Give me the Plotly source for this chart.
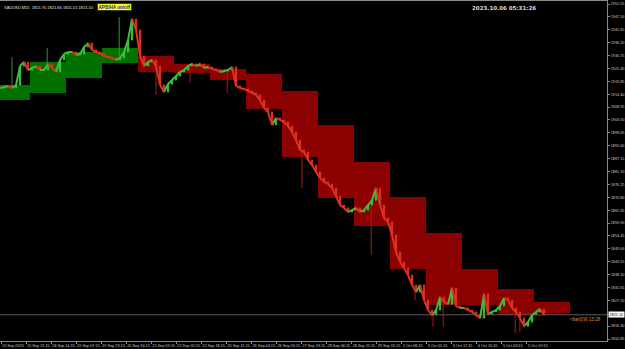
import numpy as np
import plotly.graph_objects as go

# ---------------- data ----------------
# Close prices of the (M15, aggregated) candle path
closes = [1917.0, 1917.4, 1917.9, 1917.0, 1918.3, 1926.3, 1928.0, 1924.6, 1925.5, 1926.3,
          1924.6, 1924.6, 1927.2, 1925.5, 1923.8, 1928.9, 1931.4, 1932.2, 1932.2, 1931.0,
          1931.4, 1934.4, 1936.0, 1933.1, 1932.2, 1931.8, 1930.6, 1930.1, 1929.7, 1928.9,
          1929.7, 1932.2, 1937.3, 1946.2, 1941.6, 1930.6, 1926.3, 1928.0, 1928.9, 1926.3,
          1918.3, 1915.3, 1918.7, 1920.4, 1922.1, 1923.8, 1924.6, 1926.3, 1927.2, 1926.3,
          1927.2, 1925.5, 1925.9, 1925.1, 1924.6, 1923.8, 1924.2, 1924.6, 1925.9, 1917.9,
          1917.0, 1916.6, 1915.8, 1914.9, 1914.1, 1911.9, 1908.6, 1906.9, 1901.4, 1904.3,
          1903.5, 1902.6, 1900.9, 1898.4, 1895.0, 1890.8, 1889.9, 1886.6, 1884.4, 1881.5,
          1879.0, 1877.3, 1876.4, 1874.7, 1871.3, 1867.5, 1866.3, 1864.6, 1865.4, 1866.3,
          1864.6, 1865.4, 1867.5, 1869.6, 1874.7, 1867.5, 1862.0, 1860.3, 1854.8, 1847.6,
          1843.4, 1840.9, 1837.9, 1833.7, 1830.7, 1833.7, 1827.3, 1823.1, 1821.0, 1823.1,
          1828.6, 1826.5, 1825.6, 1832.4, 1824.8, 1824.0, 1824.0, 1823.1, 1822.3, 1821.0,
          1819.7, 1829.9, 1821.4, 1822.3, 1823.1, 1824.8, 1828.2, 1827.3, 1824.0, 1822.3,
          1819.7, 1816.3, 1818.0, 1821.0, 1822.3, 1823.5, 1821.1]
first_open = 1917.2
BARS_PER_CANDLE = 92 / 9

# Long wicks (bar index, from price, to price)
wick_x = [28, 118, 302, 396, 483, 578, 769, 946, 1058, 1104, 1130, 1314, 1326]
wick_from = [1917.0, 1925.0, 1928.9, 1926.3, 1927.2, 1924.6, 1890.0, 1867.5, 1833.7, 1822.3, 1828.6, 1822.3, 1819.7]
wick_to = [1930.1, 1933.9, 1947.0, 1914.1, 1919.1, 1914.9, 1874.7, 1846.4, 1827.3, 1815.9, 1815.9, 1813.4, 1813.8]

# Daily Heiken-Ashi style boxes
day_names = ["15 Sep", "18 Sep", "19 Sep", "20 Sep", "21 Sep", "22 Sep", "25 Sep", "26 Sep",
             "27 Sep", "28 Sep", "29 Sep", "2 Oct", "3 Oct", "4 Oct", "5 Oct", "6 Oct"]
day_start = [-3, 74, 166, 258, 350, 442, 534, 626, 718, 810, 902, 994, 1086, 1178, 1270, 1362]
day_end = [74, 166, 258, 350, 442, 534, 626, 718, 810, 902, 994, 1086, 1178, 1270, 1362, 1454]
ha_open = [1911.9, 1914.9, 1921.3, 1927.6, 1930.6, 1927.2, 1925.1, 1922.9,
           1915.8, 1901.4, 1885.7, 1870.9, 1855.7, 1840.5, 1832.0, 1826.5]
ha_close = [1918.3, 1928.0, 1932.3, 1933.9, 1923.8, 1923.4, 1920.4, 1908.1,
            1887.8, 1870.5, 1858.7, 1840.5, 1825.2, 1825.2, 1821.0, 1821.9]

# Axis labels
x_tick_bars = [0, 64, 128, 192, 256, 320, 384, 448, 512, 576, 640, 704, 768, 832, 896,
               960, 1024, 1088, 1152, 1216, 1280, 1344]
x_tick_text = ["15 Sep 2023", "15 Sep 21:15", "18 Sep 14:15", "19 Sep 07:15", "19 Sep 23:15",
               "20 Sep 16:15", "21 Sep 09:15", "22 Sep 02:15", "22 Sep 18:15", "25 Sep 11:15",
               "26 Sep 04:15", "26 Sep 20:15", "27 Sep 13:15", "28 Sep 06:15", "28 Sep 22:15",
               "29 Sep 15:15", "2 Oct 08:15", "3 Oct 01:15", "3 Oct 17:15", "4 Oct 10:15",
               "5 Oct 03:15", "5 Oct 19:15"]
y_ticks = [1952.55, 1947.10, 1941.65, 1936.20, 1930.75, 1925.30, 1919.85, 1914.40, 1908.95,
           1903.50, 1898.05, 1892.60, 1887.15, 1881.70, 1876.25, 1870.80, 1865.35, 1859.90,
           1854.45, 1849.00, 1843.55, 1838.10, 1832.65, 1827.20, 1816.30, 1810.85]

bid = 1821.10
header = "XAUUSD,M15  1821.70 1821.84 1821.01 1821.10"
server_time = "2023.10.06 05:31:26"

# ---------------- figure ----------------
GREEN_BOX = "#007000"
RED_BOX = "#8b0000"
UP = "#3cc03c"
DN = "#e0321e"

n = len(closes)
cx = list(np.arange(n) * BARS_PER_CANDLE - 2.5)
opens = [first_open] + closes[:-1]
highs = [max(o, c) for o, c in zip(opens, closes)]
lows = [min(o, c) for o, c in zip(opens, closes)]

fig = go.Figure()

# daily boxes
centers = [(s + e) / 2 for s, e in zip(day_start, day_end)]
widths = [e - s for s, e in zip(day_start, day_end)]
bases = [min(o, c) for o, c in zip(ha_open, ha_close)]
heights = [abs(c - o) for o, c in zip(ha_open, ha_close)]
cols = [GREEN_BOX if c > o else RED_BOX for o, c in zip(ha_open, ha_close)]
fig.add_trace(go.Bar(x=centers, y=heights, base=bases, width=widths,
                     marker=dict(color=cols, line=dict(width=0)),
                     hoverinfo="skip", showlegend=False))

# bid line
fig.add_trace(go.Scatter(x=[-3, 1549], y=[bid, bid], mode="lines",
                         line=dict(color="#5c5c5c", width=1), hoverinfo="skip", showlegend=False))

# long wicks
for wx, wf, wt in zip(wick_x, wick_from, wick_to):
    col = "#2f9a2f" if wt > wf else "#b01a10"
    fig.add_trace(go.Scatter(x=[wx, wx], y=[wf, wt], mode="lines",
                             line=dict(color=col, width=1), hoverinfo="skip", showlegend=False))

# price path coloured by direction (continuous line of the candle closes)
ux, uy, dx_, dy_ = [], [], [], []
prev_x = cx[0] - BARS_PER_CANDLE
for i in range(n):
    x0 = cx[i - 1] if i > 0 else prev_x
    tx, ty = (ux, uy) if closes[i] >= opens[i] else (dx_, dy_)
    tx += [x0, cx[i], None]
    ty += [opens[i], closes[i], None]
fig.add_trace(go.Scatter(x=ux, y=uy, mode="lines", line=dict(color=UP, width=2),
                         hoverinfo="skip", showlegend=False))
fig.add_trace(go.Scatter(x=dx_, y=dy_, mode="lines", line=dict(color=DN, width=2),
                         hoverinfo="skip", showlegend=False))

# candles
fig.add_trace(go.Candlestick(x=cx, open=opens, high=highs, low=lows, close=closes,
                             increasing=dict(line=dict(color=UP, width=1), fillcolor=UP),
                             decreasing=dict(line=dict(color=DN, width=1), fillcolor=DN),
                             whiskerwidth=0, hoverinfo="skip", showlegend=False))

tickfont = dict(family="Liberation Sans", size=3.8, color="#c8c8c8")
fig.update_layout(
    width=625, height=349,
    margin=dict(l=0, r=18, t=1, b=8),
    paper_bgcolor="black", plot_bgcolor="black",
    showlegend=False, bargap=0, boxgap=0.55,
    xaxis=dict(range=[-2.6, 1548.6], showgrid=False, zeroline=False,
               showline=True, mirror=True, linecolor="#8a8a8a", linewidth=1,
               ticks="outside", ticklen=2, tickcolor="#8a8a8a",
               tickvals=x_tick_bars, ticktext=x_tick_text, tickangle=0,
               ticklabelposition="outside right", tickfont=tickfont,
               rangeslider=dict(visible=False), fixedrange=True),
    yaxis=dict(range=[1810.01, 1953.82], side="right", showgrid=False, zeroline=False,
               showline=True, mirror=True, linecolor="#8a8a8a", linewidth=1,
               ticks="outside", ticklen=2, tickcolor="#8a8a8a",
               tickvals=y_ticks, ticktext=[f"{v:.2f}" for v in y_ticks],
               tickfont=tickfont, fixedrange=True),
)

fig.add_annotation(x=0.004, y=0.995, xref="paper", yref="paper", xanchor="left", yanchor="top",
                   text=header, showarrow=False,
                   font=dict(family="Liberation Sans", size=4, color="#e0e0e0"))
fig.add_annotation(x=0.189, y=0.9945, xref="paper", yref="paper", xanchor="center", yanchor="top",
                   text="<b>APB/HA on/off</b>", showarrow=False, bgcolor="#ffff00",
                   bordercolor="#404000", borderwidth=1, borderpad=0.5,
                   font=dict(family="Liberation Sans", size=4.6, color="#1010ff"))
fig.add_annotation(x=0.830, y=0.993, xref="paper", yref="paper", xanchor="center", yanchor="top",
                   text="<b>" + server_time + "</b>", showarrow=False,
                   font=dict(family="DejaVu Sans", size=5.5, color="#d8d8d8"))
fig.add_annotation(x=1448, y=bid, xref="x", yref="y", xanchor="left", yanchor="top",
                   text="&lt;bar(0)6 13:28", showarrow=False,
                   font=dict(family="Liberation Sans", size=4.6, color="#e08a2a"))
fig.add_annotation(x=1.0, y=bid, xref="paper", yref="y", xanchor="left", yanchor="middle",
                   xshift=1, text="1821.10", showarrow=False, bgcolor="white", borderpad=0.5,
                   font=dict(family="Liberation Sans", size=3.8, color="black"))

fig.write_html("out.html")
